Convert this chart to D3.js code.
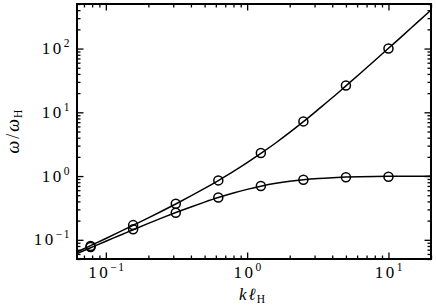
<!DOCTYPE html>
<html>
<head>
<meta charset="utf-8">
<script src="https://cdn.jsdelivr.net/npm/d3@7"></script>
<style>
  html, body { margin: 0; padding: 0; background: #fff; }
  svg { display: block; }
</style>
</head>
<body>
<svg id="chart" width="436" height="308"></svg>
<script>
// ---- data ----
const curveK      = [0.0625, 0.078, 0.1, 0.125, 0.156, 0.2, 0.25, 0.3125, 0.4, 0.5, 0.625, 0.8, 1, 1.25, 1.6, 2, 2.5, 3.2, 4, 5, 6.3, 8, 10, 12.5, 16, 20];
const upperCurve  = [0.0645, 0.0811, 0.105, 0.133, 0.169, 0.221, 0.283, 0.365, 0.488, 0.640, 0.850, 1.18, 1.62, 2.26, 3.33, 4.83, 7.13, 11.2, 16.9, 26.0, 40.7, 65.0, 101, 157, 257, 401];
const lowerCurve  = [0.0606, 0.0750, 0.0951, 0.117, 0.144, 0.181, 0.221, 0.268, 0.328, 0.390, 0.460, 0.542, 0.618, 0.693, 0.769, 0.828, 0.877, 0.918, 0.944, 0.963, 0.976, 0.985, 0.990, 0.994, 0.996, 0.998];
const markerK     = [0.078, 0.156, 0.3125, 0.625, 1.25, 2.5, 5, 10];
const upperMarks  = [0.080, 0.170, 0.368, 0.855, 2.30, 7.2, 26.3, 100];
const lowerMarks  = [0.077, 0.146, 0.266, 0.46, 0.70, 0.877, 0.96, 0.975];
const xDomain     = [0.0625, 20];
const yDomain     = [0.05, 500];
const xMajor      = [0.1, 1, 10];
const xMajorExp   = ["\u22121", "0", "1"];
const yMajor      = [0.1, 1, 10, 100];
const yMajorExp   = ["\u22121", "0", "1", "2"];

// ---- layout ----
const FONT = "'Liberation Serif'";
const L = 77, R = 431, T = 4, B = 259;
const svg = d3.select("#chart");

const x = d3.scaleLog().domain(xDomain).range([L, R]);
const y = d3.scaleLog().domain(yDomain).range([B, T]);

const xMinor = x.ticks().filter(v => !xMajor.some(m => Math.abs(m - v) / m < 1e-9));
const yMinor = y.ticks().filter(v => !yMajor.some(m => Math.abs(m - v) / m < 1e-9));

const majLen = 6.5, minLen = 3.5;

function styleAxis(g) {
  g.select(".domain").remove();
  g.selectAll(".tick line").attr("stroke", "#000").attr("stroke-width", 1.3);
  g.selectAll(".tick text").remove();
}
function axisPair(maker, scale, major, minor, tr) {
  svg.append("g").attr("transform", tr)
    .call(maker(scale).tickValues(major).tickSizeInner(-majLen).tickSizeOuter(0)).call(styleAxis);
  svg.append("g").attr("transform", tr)
    .call(maker(scale).tickValues(minor).tickSizeInner(-minLen).tickSizeOuter(0)).call(styleAxis);
}
axisPair(d3.axisBottom, x, xMajor, xMinor, `translate(0,${B})`);
axisPair(d3.axisTop, x, xMajor, xMinor, `translate(0,${T})`);
axisPair(d3.axisLeft, y, yMajor, yMinor, `translate(${L},0)`);
axisPair(d3.axisRight, y, yMajor, yMinor, `translate(${R},0)`);

// frame
svg.append("rect").attr("x", L).attr("y", T).attr("width", R - L).attr("height", B - T)
  .attr("fill", "none").attr("stroke", "#000").attr("stroke-width", 2);

// tick labels
const fs = 17, sfs = 11.5;
function label(t, exp) {
  t.append("tspan").style("letter-spacing", "2.5px").text("10");
  t.append("tspan").attr("dy", -7).attr("font-size", sfs).style("letter-spacing", "1.5px").text(exp);
}
xMajor.forEach((v, i) => {
  const t = svg.append("text").attr("x", x(v) + 1).attr("y", 278).attr("text-anchor", "middle")
    .attr("font-family", FONT).attr("font-size", fs).attr("fill", "#000");
  label(t, xMajorExp[i]);
});
yMajor.forEach((v, i) => {
  const t = svg.append("text").attr("x", 71).attr("y", y(v) + 5.5).attr("text-anchor", "end")
    .attr("font-family", FONT).attr("font-size", fs).attr("fill", "#000");
  label(t, yMajorExp[i]);
});

// axis titles
const xt = svg.append("text").attr("x", 252).attr("y", 300).attr("text-anchor", "middle")
  .attr("font-family", FONT).attr("font-size", 17).attr("fill", "#000");
xt.append("tspan").attr("font-style", "italic").text("k");
xt.append("tspan").attr("font-style", "italic").attr("dx", 2).text("\u2113");
xt.append("tspan").attr("dy", 3).attr("dx", 1).attr("font-size", 11.5).text("H");

const yt = svg.append("text").attr("transform", `translate(19,${(T + B) / 2}) rotate(-90)`)
  .attr("text-anchor", "middle").attr("font-family", FONT).attr("font-size", 18).attr("fill", "#000");
yt.append("tspan").attr("font-style", "italic").text("\u03C9");
yt.append("tspan").attr("dx", 2).text("/");
yt.append("tspan").attr("dx", 2).attr("font-style", "italic").text("\u03C9");
yt.append("tspan").attr("dy", 3).attr("dx", 1).attr("font-size", 11.5).text("H");

// clip
svg.append("clipPath").attr("id", "clip").append("rect")
  .attr("x", L).attr("y", T).attr("width", R - L).attr("height", B - T);

const line = d3.line().x(d => x(d[0])).y(d => y(d[1])).curve(d3.curveMonotoneX);
const plot = svg.append("g").attr("clip-path", "url(#clip)");
[upperCurve, lowerCurve].forEach(s => {
  plot.append("path").datum(curveK.map((k, i) => [k, s[i]]))
    .attr("d", line).attr("fill", "none").attr("stroke", "#000").attr("stroke-width", 1.5);
});
[upperMarks, lowerMarks].forEach(s => {
  plot.selectAll(null).data(markerK.map((k, i) => [k, s[i]])).enter().append("circle")
    .attr("cx", d => x(d[0])).attr("cy", d => y(d[1])).attr("r", 4.5)
    .attr("fill", "none").attr("stroke", "#000").attr("stroke-width", 1.5);
});
</script>
</body>
</html>
